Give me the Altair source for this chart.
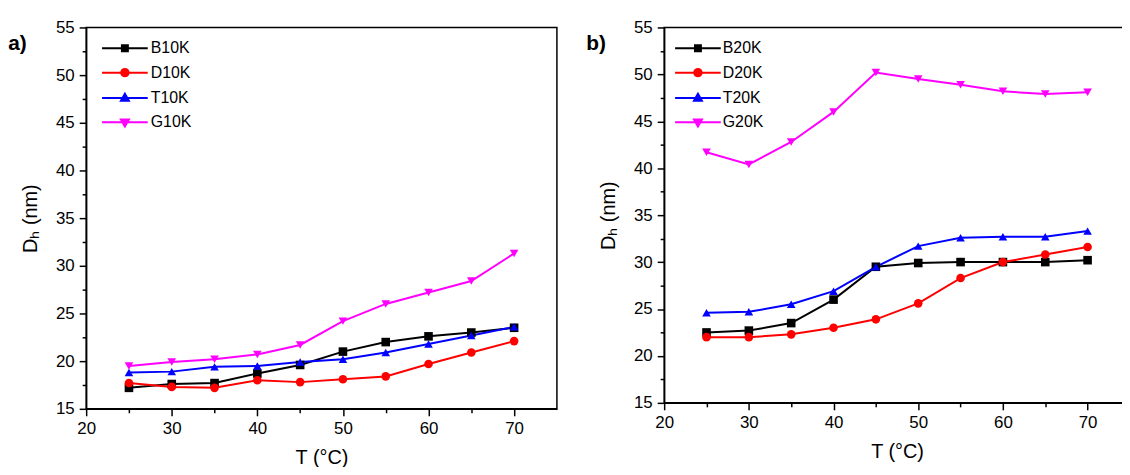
import altair as alt
import pandas as pd

# ---------------- data ----------------
T = [25, 30, 35, 40, 45, 50, 55, 60, 65, 70]

names_a = ["B10K", "D10K", "T10K", "G10K"]
B10K = [17.2, 17.6, 17.7, 18.7, 19.6, 21.0, 22.0, 22.6, 23.0, 23.5]
D10K = [17.7, 17.3, 17.2, 18.0, 17.8, 18.1, 18.4, 19.7, 20.9, 22.1]
T10K = [18.8, 18.9, 19.4, 19.5, 19.9, 20.2, 20.9, 21.8, 22.7, 23.6]
G10K = [19.5, 19.9, 20.2, 20.7, 21.7, 24.2, 26.0, 27.2, 28.4, 31.3]

names_b = ["B20K", "D20K", "T20K", "G20K"]
B20K = [22.5, 22.7, 23.5, 26.0, 29.5, 29.9, 30.0, 30.0, 30.0, 30.2]
D20K = [22.0, 22.0, 22.3, 23.0, 23.9, 25.6, 28.3, 30.0, 30.8, 31.6]
T20K = [24.6, 24.7, 25.5, 26.9, 29.5, 31.7, 32.6, 32.7, 32.7, 33.3]
G20K = [41.7, 40.4, 42.8, 46.0, 50.2, 49.5, 48.9, 48.2, 47.9, 48.1]

X_MAJOR = [20, 30, 40, 50, 60, 70]
X_MINOR = [25, 35, 45, 55, 65]
Y_MAJOR = [15, 20, 25, 30, 35, 40, 45, 50, 55]
Y_MINOR = [17.5, 22.5, 27.5, 32.5, 37.5, 42.5, 47.5, 52.5]

COLORS = ["#000000", "#ff0000", "#0000ff", "#ff00ff"]
SHAPES = ["square", "circle", "triangle-up", "triangle-down"]
# legend symbols: a horizontal line with the marker in the middle
LEG_SHAPES = [
    "M-4.6,0L4.6,0M-0.6,-0.6L0.6,-0.6L0.6,0.6L-0.6,0.6Z",
    "M-4.6,0L4.6,0M0.75,0A0.75,0.75,0,1,1,-0.75,0A0.75,0.75,0,1,1,0.75,0Z",
    "M-4.6,0L4.6,0M0,-0.85L0.8,0.55L-0.8,0.55Z",
    "M-4.6,0L4.6,0M0,0.85L0.8,-0.55L-0.8,-0.55Z",
]

FONT = "Liberation Sans"


def long_df(names, series):
    rows = []
    for n, vals in zip(names, series):
        for t, v in zip(T, vals):
            rows.append({"T": t, "D": v, "series": n})
    return pd.DataFrame(rows)


def panel(names, series, tag, width, height, lx, ly, loff):
    df = long_df(names, series)
    xs = alt.Scale(domain=[20, 75], nice=False, zero=False)
    ys = alt.Scale(domain=[15, 55], nice=False, zero=False)

    x_major = alt.Axis(values=X_MAJOR, orient="bottom", title="T (°C)", labelFlush=False,
                       tickSize=7, labelPadding=5, titlePadding=11, grid=False)
    y_major = alt.Axis(values=Y_MAJOR, orient="left", title="Dₕ (nm)",
                       tickSize=7, labelPadding=5, titlePadding=15, grid=False)
    x_minor = alt.Axis(values=X_MINOR, orient="bottom", title=None, labels=False,
                       domain=False, tickSize=4, grid=False)
    y_minor = alt.Axis(values=Y_MINOR, orient="left", title=None, labels=False,
                       domain=False, tickSize=4, grid=False)

    base = alt.Chart(df)
    X_ = alt.X("T:Q", scale=xs, axis=None)
    Y_ = alt.Y("D:Q", scale=ys, axis=None)
    axes_layer = base.mark_point(opacity=0).encode(
        x=alt.X("T:Q", scale=xs, axis=x_major),
        y=alt.Y("D:Q", scale=ys, axis=y_major),
    )
    minor = base.mark_point(opacity=0).encode(
        x=alt.X("T:Q", scale=xs, axis=x_minor),
        y=alt.Y("D:Q", scale=ys, axis=y_minor),
    )
    lines = [
        base.transform_filter(alt.datum.series == n)
        .mark_line(strokeWidth=2, color=c)
        .encode(x=X_, y=Y_)
        for n, c in zip(names, COLORS)
    ]
    pts = [
        base.transform_filter(alt.datum.series == n)
        .mark_point(filled=True, size=75, opacity=1, shape=s, color=c)
        .encode(x=X_, y=Y_)
        for n, s, c in zip(names, SHAPES, COLORS)
    ]
    leg = alt.Legend(orient="none", legendX=lx, legendY=ly, title=None, padding=0,
                     labelFont=FONT, labelFontSize=16, labelColor="black",
                     symbolSize=100, symbolStrokeWidth=2, symbolOpacity=1,
                     labelOffset=loff, rowPadding=8.5)
    # carries only the legend: its marks are pushed out of the clipped plot area
    legend_layer = base.mark_point(filled=True, opacity=1, strokeWidth=2,
                                   clip=True, yOffset=-3000).encode(
        x=X_, y=Y_,
        fill=alt.Fill("series:N", scale=alt.Scale(domain=names, range=COLORS), legend=leg),
        stroke=alt.Stroke("series:N", scale=alt.Scale(domain=names, range=COLORS), legend=leg),
        shape=alt.Shape("series:N", scale=alt.Scale(domain=names, range=LEG_SHAPES), legend=leg),
    )
    tag_layer = alt.Chart(pd.DataFrame({"t": [tag]})).mark_text(
        align="left", baseline="middle", font=FONT, fontSize=21, fontWeight="bold", color="black"
    ).encode(text="t:N", x=alt.value(-78.5), y=alt.value(17))

    return alt.layer(minor, axes_layer, *lines, *pts, legend_layer, tag_layer).resolve_axis(
        x="independent", y="independent"
    ).properties(width=width, height=height)


left = panel(names_a, [B10K, D10K, T10K, G10K], "a)", 474, 384, 31, 13, 18)
right = panel(names_b, [B20K, D20K, T20K, G20K], "b)", 469, 378, 26, 13, 17)

chart = alt.hconcat(left, right, spacing=27).resolve_scale(
    fill="independent", stroke="independent", shape="independent"
).resolve_legend(
    fill="independent", stroke="independent", shape="independent"
).properties(
    autosize=alt.AutoSizeParams(type="none"),
    padding={"left": 78.7, "top": 18, "right": 1043, "bottom": 441},
).configure_view(stroke="black", strokeWidth=1.5).configure_axis(
    labelFont=FONT, labelFontSize=17, labelColor="black",
    titleFont=FONT, titleFontSize=20, titleFontWeight="normal", titleColor="black",
    domainColor="black", domainWidth=1.5, tickColor="black", tickWidth=1.5,
)

chart.save("out.html", embed_options={"renderer": "svg", "actions": False})
